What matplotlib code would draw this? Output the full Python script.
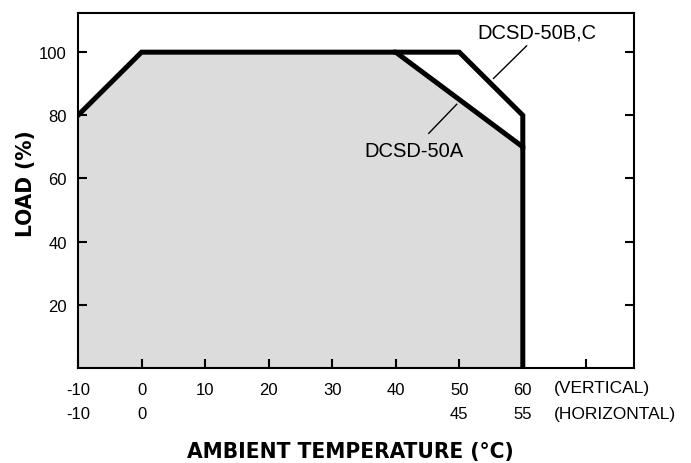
import matplotlib
matplotlib.use('Agg')
import matplotlib.pyplot as plt
from matplotlib import font_manager

# derating curves
a_x = [-10, 0, 40, 60, 60]
a_y = [80, 100, 100, 70, 0]
bc_x = [40, 50, 60, 60]
bc_y = [100, 100, 80, 70]

xticks = [-10, 0, 10, 20, 30, 40, 50, 60, 70]
xlabels_vert = ['-10', '0', '10', '20', '30', '40', '50', '60', '']
horiz_pos = [-10, 0, 50, 60]
horiz_labels = ['-10', '0', '45', '55']
yticks = [20, 40, 60, 80, 100]

# look for a narrow bold face, otherwise shrink the normal one
label_font = dict(family='Liberation Sans', fontsize=16, fontweight='bold')
for f in font_manager.fontManager.ttflist:
    if 'Narrow' in f.name or 'Condensed' in f.name or 'condensed' in str(f.stretch):
        if f.weight in ('bold', 700):
            label_font = dict(family=f.name, fontsize=16.2, fontweight='bold',
                              fontstretch=f.stretch)
            break

plt.rcParams['font.family'] = ['Liberation Sans', 'DejaVu Sans']

fig = plt.figure(figsize=(6.91, 4.64), dpi=100)
ax = fig.add_axes([78/691, 95/464, 556/691, 355/464])

ax.fill_between(a_x, a_y, 0, color='#dcdcdc', lw=0)
ax.plot(a_x, a_y, color='black', lw=3.6, solid_joinstyle='miter')
ax.plot(bc_x, bc_y, color='black', lw=3.6, solid_joinstyle='miter')

ax.set_xlim(-10, 77.5)
ax.set_ylim(0, 112.4)

for s in ax.spines.values():
    s.set_linewidth(1.5)

ax.set_xticks(xticks)
ax.set_xticklabels(xlabels_vert)
ax.set_yticks(yticks)
ax.tick_params(axis='both', direction='in', length=6.5, width=1.5, labelsize=12)
ax.tick_params(axis='y', right=True, pad=8)
ax.tick_params(axis='x', pad=10)

tr = ax.get_xaxis_transform()
for p, l in zip(horiz_pos, horiz_labels):
    ax.text(p, -0.127, l, transform=tr, ha='center', va='center', fontsize=12)
ax.text(64.9, -0.056, '(VERTICAL)', transform=tr, ha='left', va='center', fontsize=12.5)
ax.text(64.9, -0.127, '(HORIZONTAL)', transform=tr, ha='left', va='center', fontsize=12.5)

# callouts
ax.plot([60.6, 55.4], [102.0, 91.7], color='black', lw=1)
ax.text(62.2, 106.5, 'DCSD-50B,C', ha='center', va='center', fontsize=14.5)
ax.plot([49.6, 45.2], [83.5, 74.3], color='black', lw=1)
ax.text(42.9, 68.9, 'DCSD-50A', ha='center', va='center', fontsize=14.5)

ax.set_ylabel('LOAD (%)', **label_font)
ax.yaxis.set_label_coords(-0.076, 0.521)
ax.set_xlabel('AMBIENT TEMPERATURE (°C)', **label_font)
ax.xaxis.set_label_coords(0.489, -0.205)

fig.savefig('out.png', dpi=100)
